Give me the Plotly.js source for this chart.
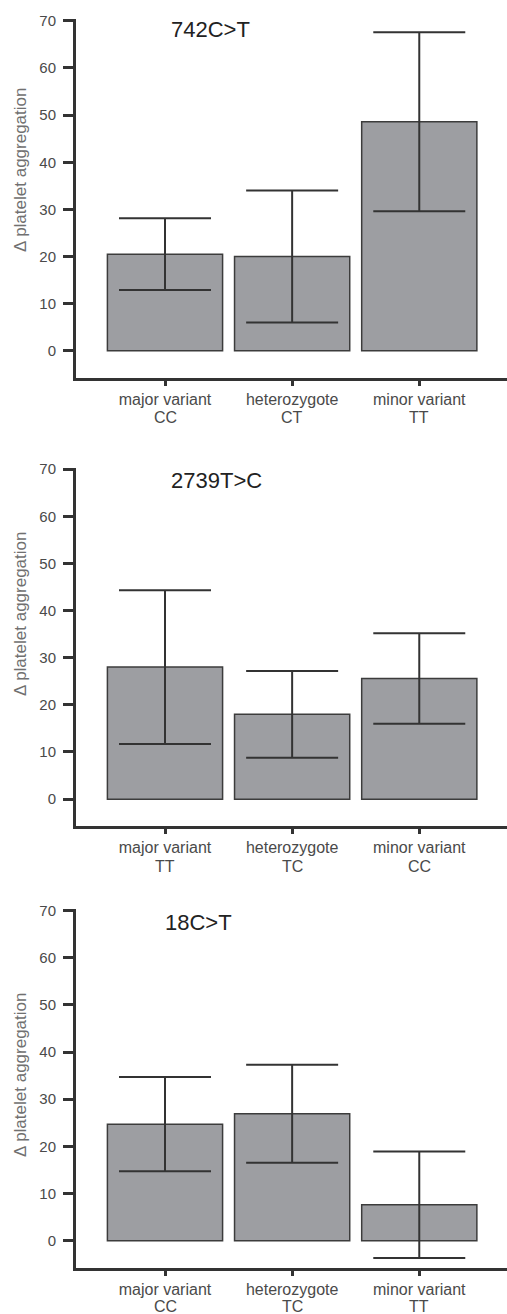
<!DOCTYPE html>
<html>
<head>
<meta charset="utf-8">
<script src="https://cdn.plot.ly/plotly-3.0.1.min.js"></script>
<style>html,body{margin:0;padding:0;background:#fff;}#chart{width:507px;height:1314px;}</style>
</head>
<body>
<div id="chart"></div>
<script>
// ---- data ----
const positions = [0, 1, 2];
const panelTitles = ["742C>T", "2739T>C", "18C>T"];
const groupLabels = ["major variant", "heterozygote", "minor variant"];
const genotypes742 = ["CC", "CT", "TT"];
const genotypes2739 = ["TT", "TC", "CC"];
const genotypes18 = ["CC", "TC", "TT"];
const mean742 = [20.5, 20.0, 48.6];
const err742 = [7.6, 14.0, 19.0];
const mean2739 = [28.0, 18.0, 25.6];
const err2739 = [16.3, 9.2, 9.6];
const mean18 = [24.7, 26.9, 7.6];
const err18 = [10.0, 10.4, 11.3];
const yTitle = "Δ platelet aggregation";

// ---- styling / layout ----
const H = 1314;
const barFill = "#9d9ea2";
const barLine = "#3c3c3c";
const axisColor = "#333333";
const fam = "Liberation Sans, Arial, sans-serif";
const yTickFont = {family: fam, size: 15, color: "#4a4a4a"};
const xTickFont = {family: fam, size: 16, color: "#4a4a4a"};

// pixel positions of panel boxes (top, bottom) and annotation anchors
const panels = [
  {means: mean742, errs: err742, geno: genotypes742, title: panelTitles[0], top: 19.4, bot: 377.7, tx: 210, tyPx: 29, ytPx: 170, g2: 40},
  {means: mean2739, errs: err2739, geno: genotypes2739, title: panelTitles[1], top: 467.7, bot: 826, tx: 216, tyPx: 480, ytPx: 614, g2: 40},
  {means: mean18, errs: err18, geno: genotypes18, title: panelTitles[2], top: 909.2, bot: 1267.5, tx: 198, tyPx: 922, ytPx: 1075, g2: 39}
];
const L = 76, W = 431;
const px2x = p => (p - L) / W;
const px2y = p => (H - p) / H;

const data = [];
const layout = {
  width: 507, height: H,
  margin: {l: L, r: 0, t: 0, b: 0},
  paper_bgcolor: "#ffffff", plot_bgcolor: "#ffffff",
  showlegend: false,
  annotations: []
};

panels.forEach((p, i) => {
  const n = i === 0 ? "" : String(i + 1);
  data.push({
    type: "bar",
    x: positions,
    y: p.means,
    xaxis: "x" + n,
    yaxis: "y" + n,
    width: 0.906,
    marker: {color: barFill, line: {color: barLine, width: 1.5}},
    error_y: {type: "data", array: p.errs, visible: true, color: axisColor, thickness: 2, width: 46},
    hoverinfo: "skip"
  });
  layout["xaxis" + n] = {
    anchor: "y" + n,
    domain: [0, 1],
    range: [-0.7, 2.69],
    tickmode: "array",
    tickvals: positions,
    ticktext: groupLabels,
    showline: true, linecolor: axisColor, linewidth: 3,
    ticks: "outside", ticklen: 5, tickwidth: 3, tickcolor: axisColor,
    ticklabelstandoff: 0,
    showgrid: false, zeroline: false,
    tickfont: xTickFont,
    fixedrange: true
  };
  layout["yaxis" + n] = {
    anchor: "x" + n,
    domain: [px2y(p.bot), px2y(p.top)],
    range: [-5.7, 70.3],
    tickvals: [0, 10, 20, 30, 40, 50, 60, 70],
    showline: true, linecolor: axisColor, linewidth: 3,
    ticks: "outside", ticklen: 10, tickwidth: 3, tickcolor: axisColor,
    ticklabelstandoff: 4,
    showgrid: false, zeroline: false,
    tickfont: yTickFont,
    fixedrange: true
  };
  // panel title
  layout.annotations.push({
    text: p.title, xref: "paper", yref: "paper", x: px2x(p.tx), y: px2y(p.tyPx),
    xanchor: "center", yanchor: "middle", showarrow: false,
    font: {family: fam, size: 22, color: "#222222"}
  });
  // y-axis title
  layout.annotations.push({
    text: yTitle, xref: "paper", yref: "paper", x: px2x(20), y: px2y(p.ytPx),
    xanchor: "center", yanchor: "middle", textangle: -90, showarrow: false,
    font: {family: fam, size: 17, color: "#707070"}
  });
  // genotype (second line of category label)
  p.geno.forEach((g, k) => {
    layout.annotations.push({
      text: g, xref: "x" + n, yref: "paper", x: positions[k], y: px2y(p.bot + p.g2),
      xanchor: "center", yanchor: "middle", showarrow: false, borderpad: 0,
      font: xTickFont
    });
  });
});

Plotly.newPlot("chart", data, layout, {staticPlot: true, displayModeBar: false});
</script>
</body>
</html>
